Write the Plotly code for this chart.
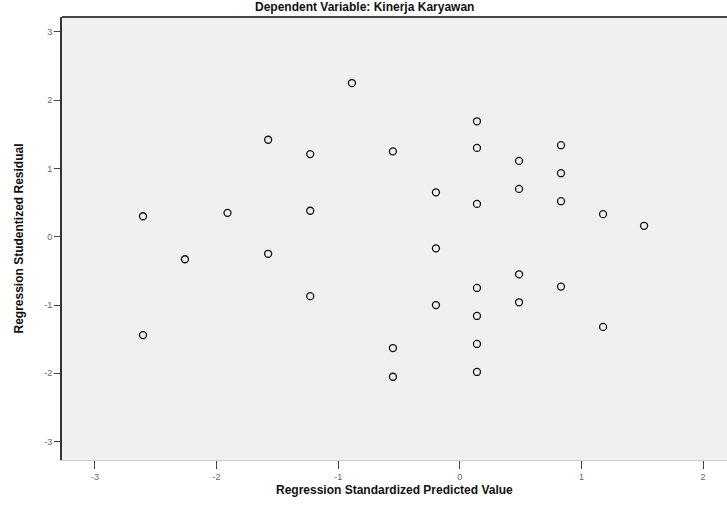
import plotly.graph_objects as go

# Scatterplot of studentized residuals against standardized predicted values
predicted = [-2.605, -2.605, -2.26, -1.91, -1.576, -1.576, -1.23, -1.23, -1.23,
             -0.887, -0.55, -0.55, -0.55, -0.196, -0.196, -0.196,
             0.141, 0.141, 0.141, 0.141, 0.141, 0.141, 0.141,
             0.487, 0.487, 0.487, 0.487, 0.832, 0.832, 0.832, 0.832,
             1.178, 1.178, 1.515]
residual = [0.30, -1.44, -0.33, 0.35, 1.42, -0.25, 1.21, 0.38, -0.87,
            2.25, 1.25, -1.63, -2.05, 0.65, -0.17, -1.00,
            1.69, 1.30, 0.48, -0.75, -1.16, -1.57, -1.98,
            1.11, 0.70, -0.55, -0.96, 1.34, 0.93, 0.52, -0.73,
            0.33, -1.32, 0.16]

x_ticks = [-3, -2, -1, 0, 1, 2]
y_ticks = [-3, -2, -1, 0, 1, 2, 3]

title_text = "Dependent Variable: Kinerja Karyawan"
x_title = "Regression Standardized Predicted Value"
y_title = "Regression Studentized Residual"

fig = go.Figure()
fig.add_trace(go.Scatter(
    x=predicted, y=residual, mode="markers",
    marker=dict(symbol="circle-open", size=7, color="#111111",
                line=dict(width=1.3, color="#111111")),
    hoverinfo="x+y", showlegend=False,
))

font = "Liberation Sans, Arial, sans-serif"

fig.update_layout(
    width=727, height=518,
    margin=dict(l=62, r=0, t=17, b=58),
    paper_bgcolor="white",
    plot_bgcolor="#f0f0f0",
    font=dict(family=font),
    xaxis=dict(
        range=[-3.271, 2.197], tickvals=x_ticks,
        ticktext=[str(v) for v in x_ticks],
        showgrid=False, zeroline=False,
        ticks="outside", ticklen=8, tickwidth=1, tickcolor="#444444",
        tickfont=dict(size=9, color="#666666"),
        showline=True, linecolor="#cfcfcf", linewidth=1,
    ),
    yaxis=dict(
        range=[-3.269, 3.217], tickvals=y_ticks,
        ticktext=[str(v) for v in y_ticks],
        showgrid=False, zeroline=False,
        ticks="outside", ticklen=6, tickwidth=1, tickcolor="#444444",
        tickfont=dict(size=9, color="#666666"),
        showline=True, linecolor="#333333", linewidth=2,
    ),
    annotations=[
        dict(text="<b>" + title_text + "</b>", xref="paper", yref="paper",
             x=0.455, y=1, xanchor="center", yanchor="bottom", yshift=1,
             showarrow=False, font=dict(size=12, color="#111111", family=font)),
        dict(text="<b>" + x_title + "</b>", xref="paper", yref="paper",
             x=0.5, y=0, xanchor="center", yanchor="middle", yshift=-30,
             showarrow=False, font=dict(size=12, color="#111111", family=font)),
        dict(text="<b>" + y_title + "</b>", xref="paper", yref="paper",
             x=0, y=0.5, xanchor="center", yanchor="middle", xshift=-44,
             textangle=-90, showarrow=False,
             font=dict(size=12, color="#111111", family=font)),
    ],
    shapes=[
        # dark top frame line
        dict(type="line", xref="paper", yref="paper", x0=0, x1=1, y0=1, y1=1,
             line=dict(color="#444444", width=2)),
    ],
)

fig.write_html("out.html")
